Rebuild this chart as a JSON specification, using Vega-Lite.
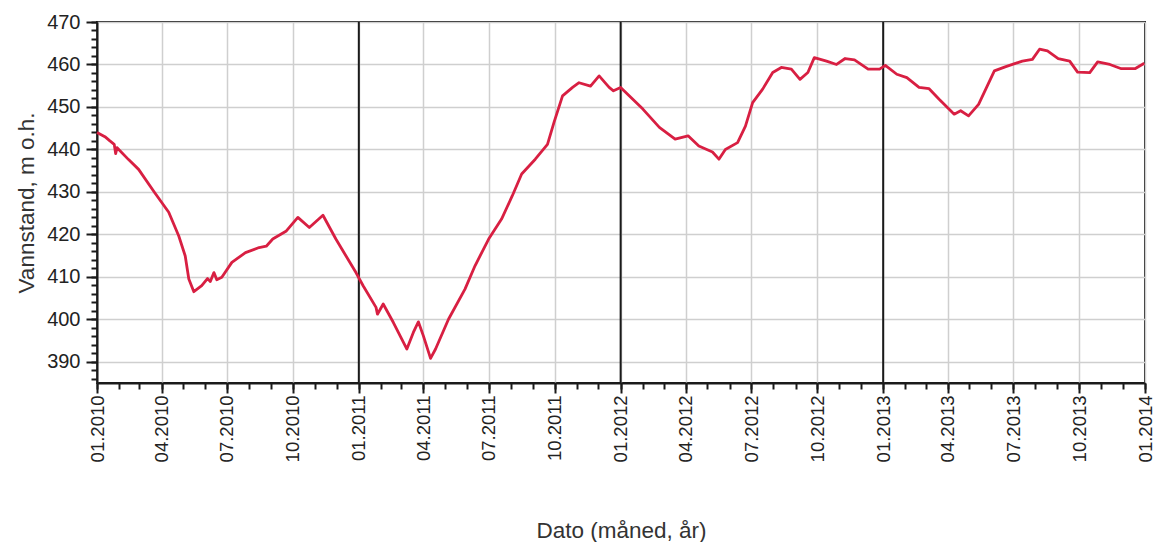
{
  "$schema": "https://vega.github.io/schema/vega-lite/v6.json",
  "width": 1048,
  "height": 361,
  "autosize": {"type": "none"},
  "padding": {"left": 97, "top": 22, "right": 10, "bottom": 159},
  "background": "white",
  "config": {
    "font": "Liberation Sans",
    "view": {"stroke": "#1a1a1a", "strokeWidth": 2},
    "axis": {
      "domainColor": "#1a1a1a", "domainWidth": 2,
      "tickColor": "#1a1a1a", "tickWidth": 2,
      "labelColor": "#222222", "titleColor": "#333333",
      "titleFontWeight": "normal", "titleFont": "Liberation Sans"
    }
  },
  "datasets": {
    "nivaa": [
      {"dato": "2010-01-01", "vannstand": 444.0},
      {"dato": "2010-01-12", "vannstand": 443.0},
      {"dato": "2010-01-19", "vannstand": 442.0},
      {"dato": "2010-01-25", "vannstand": 441.2},
      {"dato": "2010-01-27", "vannstand": 439.0},
      {"dato": "2010-01-29", "vannstand": 440.4},
      {"dato": "2010-02-14", "vannstand": 437.6},
      {"dato": "2010-02-28", "vannstand": 435.3},
      {"dato": "2010-03-22", "vannstand": 429.9},
      {"dato": "2010-04-11", "vannstand": 425.2},
      {"dato": "2010-04-25", "vannstand": 419.6},
      {"dato": "2010-05-04", "vannstand": 414.9},
      {"dato": "2010-05-09", "vannstand": 409.5},
      {"dato": "2010-05-16", "vannstand": 406.5},
      {"dato": "2010-05-27", "vannstand": 407.9},
      {"dato": "2010-06-04", "vannstand": 409.6},
      {"dato": "2010-06-08", "vannstand": 408.9},
      {"dato": "2010-06-13", "vannstand": 411.0},
      {"dato": "2010-06-17", "vannstand": 409.3},
      {"dato": "2010-06-24", "vannstand": 409.9},
      {"dato": "2010-07-08", "vannstand": 413.4},
      {"dato": "2010-07-27", "vannstand": 415.7},
      {"dato": "2010-08-15", "vannstand": 416.9},
      {"dato": "2010-08-25", "vannstand": 417.2},
      {"dato": "2010-09-03", "vannstand": 418.9},
      {"dato": "2010-09-22", "vannstand": 420.8},
      {"dato": "2010-10-08", "vannstand": 424.0},
      {"dato": "2010-10-24", "vannstand": 421.6},
      {"dato": "2010-11-12", "vannstand": 424.5},
      {"dato": "2010-11-30", "vannstand": 418.9},
      {"dato": "2010-12-28", "vannstand": 411.0},
      {"dato": "2011-01-07", "vannstand": 407.9},
      {"dato": "2011-01-25", "vannstand": 402.8},
      {"dato": "2011-01-27", "vannstand": 401.2},
      {"dato": "2011-02-04", "vannstand": 403.6},
      {"dato": "2011-02-18", "vannstand": 399.3},
      {"dato": "2011-03-09", "vannstand": 393.0},
      {"dato": "2011-03-18", "vannstand": 396.9},
      {"dato": "2011-03-25", "vannstand": 399.4},
      {"dato": "2011-04-01", "vannstand": 396.1},
      {"dato": "2011-04-11", "vannstand": 390.8},
      {"dato": "2011-04-18", "vannstand": 393.0},
      {"dato": "2011-05-06", "vannstand": 400.0},
      {"dato": "2011-05-29", "vannstand": 407.1},
      {"dato": "2011-06-12", "vannstand": 412.6},
      {"dato": "2011-07-01", "vannstand": 418.9},
      {"dato": "2011-07-19", "vannstand": 423.6},
      {"dato": "2011-08-03", "vannstand": 429.1},
      {"dato": "2011-08-16", "vannstand": 434.2},
      {"dato": "2011-09-04", "vannstand": 437.7},
      {"dato": "2011-09-21", "vannstand": 441.2},
      {"dato": "2011-09-30", "vannstand": 446.3},
      {"dato": "2011-10-12", "vannstand": 452.6},
      {"dato": "2011-10-26", "vannstand": 454.6},
      {"dato": "2011-11-04", "vannstand": 455.7},
      {"dato": "2011-11-20", "vannstand": 454.9},
      {"dato": "2011-12-02", "vannstand": 457.3},
      {"dato": "2011-12-16", "vannstand": 454.6},
      {"dato": "2011-12-22", "vannstand": 453.8},
      {"dato": "2012-01-01", "vannstand": 454.6},
      {"dato": "2012-02-01", "vannstand": 449.5},
      {"dato": "2012-02-24", "vannstand": 445.2},
      {"dato": "2012-03-17", "vannstand": 442.4},
      {"dato": "2012-04-04", "vannstand": 443.2},
      {"dato": "2012-04-19", "vannstand": 440.8},
      {"dato": "2012-05-08", "vannstand": 439.4},
      {"dato": "2012-05-17", "vannstand": 437.7},
      {"dato": "2012-05-26", "vannstand": 440.0},
      {"dato": "2012-06-12", "vannstand": 441.6},
      {"dato": "2012-06-23", "vannstand": 445.5},
      {"dato": "2012-07-03", "vannstand": 451.0},
      {"dato": "2012-07-17", "vannstand": 454.2},
      {"dato": "2012-07-31", "vannstand": 458.1},
      {"dato": "2012-08-12", "vannstand": 459.3},
      {"dato": "2012-08-26", "vannstand": 458.9},
      {"dato": "2012-09-07", "vannstand": 456.5},
      {"dato": "2012-09-18", "vannstand": 458.1},
      {"dato": "2012-09-27", "vannstand": 461.6},
      {"dato": "2012-10-14", "vannstand": 460.8},
      {"dato": "2012-10-28", "vannstand": 460.0},
      {"dato": "2012-11-09", "vannstand": 461.4},
      {"dato": "2012-11-22", "vannstand": 461.1},
      {"dato": "2012-12-11", "vannstand": 458.9},
      {"dato": "2012-12-27", "vannstand": 458.9},
      {"dato": "2013-01-04", "vannstand": 459.8},
      {"dato": "2013-01-20", "vannstand": 457.7},
      {"dato": "2013-02-03", "vannstand": 456.9},
      {"dato": "2013-02-20", "vannstand": 454.6},
      {"dato": "2013-03-06", "vannstand": 454.3},
      {"dato": "2013-03-20", "vannstand": 451.8},
      {"dato": "2013-04-10", "vannstand": 448.3},
      {"dato": "2013-04-19", "vannstand": 449.1},
      {"dato": "2013-04-30", "vannstand": 447.9},
      {"dato": "2013-05-14", "vannstand": 450.6},
      {"dato": "2013-06-05", "vannstand": 458.5},
      {"dato": "2013-06-21", "vannstand": 459.5},
      {"dato": "2013-07-14", "vannstand": 460.8},
      {"dato": "2013-07-28", "vannstand": 461.2},
      {"dato": "2013-08-07", "vannstand": 463.6},
      {"dato": "2013-08-18", "vannstand": 463.2},
      {"dato": "2013-09-02", "vannstand": 461.4},
      {"dato": "2013-09-18", "vannstand": 460.8},
      {"dato": "2013-09-29", "vannstand": 458.2},
      {"dato": "2013-10-16", "vannstand": 458.1},
      {"dato": "2013-10-27", "vannstand": 460.6},
      {"dato": "2013-11-13", "vannstand": 460.0},
      {"dato": "2013-11-29", "vannstand": 459.0},
      {"dato": "2013-12-18", "vannstand": 459.0},
      {"dato": "2013-12-31", "vannstand": 460.3}
    ],
    "aarsskifte": [
      {"dato": "2011-01-01"},
      {"dato": "2012-01-01"},
      {"dato": "2013-01-01"}
    ]
  },
  "layer": [
    {
      "data": {"name": "aarsskifte"},
      "mark": {"type": "rule", "color": "#1a1a1a", "strokeWidth": 2},
      "encoding": {
        "x": {
          "field": "dato", "type": "temporal",
          "axis": {
            "orient": "bottom", "title": null, "labels": false, "grid": false,
            "domain": false, "tickSize": 6,
            "tickCount": {"interval": "month", "step": 1}
          }
        }
      }
    },
    {
      "data": {"name": "nivaa"},
      "mark": {"type": "line", "strokeOpacity": 0},
      "encoding": {
        "x": {"field": "dato", "type": "temporal", "axis": null},
        "y": {
          "field": "vannstand", "type": "quantitative",
          "axis": {
            "orient": "left", "title": null, "labels": false, "grid": false,
            "domain": false, "tickSize": 6,
            "values": [386, 388, 390, 392, 394, 396, 398, 400, 402, 404, 406, 408, 410, 412, 414, 416, 418, 420, 422, 424, 426, 428, 430, 432, 434, 436, 438, 440, 442, 444, 446, 448, 450, 452, 454, 456, 458, 460, 462, 464, 466, 468, 470]
          }
        }
      }
    },
    {
      "data": {"name": "nivaa"},
      "mark": {"type": "line", "color": "#d81f42", "strokeWidth": 2.8, "strokeJoin": "round", "interpolate": "linear"},
      "encoding": {
        "x": {
          "field": "dato", "type": "temporal",
          "scale": {"type": "utc", "domain": ["2010-01-01", "2014-01-01"]},
          "axis": {
            "orient": "bottom",
            "title": "Dato (måned, år)",
            "titleFontSize": 22.5, "titlePadding": 58,
            "format": "%m.%Y",
            "tickCount": {"interval": "month", "step": 3},
            "labelAngle": -90, "labelAlign": "right", "labelBaseline": "middle",
            "labelFontSize": 18.5, "labelPadding": 2, "labelFlush": false,
            "labelOverlap": false,
            "tickSize": 10,
            "grid": true, "gridColor": "#cfcfcf", "gridWidth": 1.5
          }
        },
        "y": {
          "field": "vannstand", "type": "quantitative",
          "scale": {"domain": [385, 470], "nice": false, "zero": false},
          "axis": {
            "orient": "left",
            "title": "Vannstand, m o.h.",
            "titleFontSize": 22.5, "titlePadding": 8,
            "values": [390, 400, 410, 420, 430, 440, 450, 460, 470],
            "labelFontSize": 20, "labelPadding": 6, "labelFlush": false,
            "tickSize": 11,
            "grid": true, "gridColor": "#cfcfcf", "gridWidth": 1.5
          }
        }
      }
    }
  ],
  "resolve": {"axis": {"x": "independent", "y": "independent"}}
}
